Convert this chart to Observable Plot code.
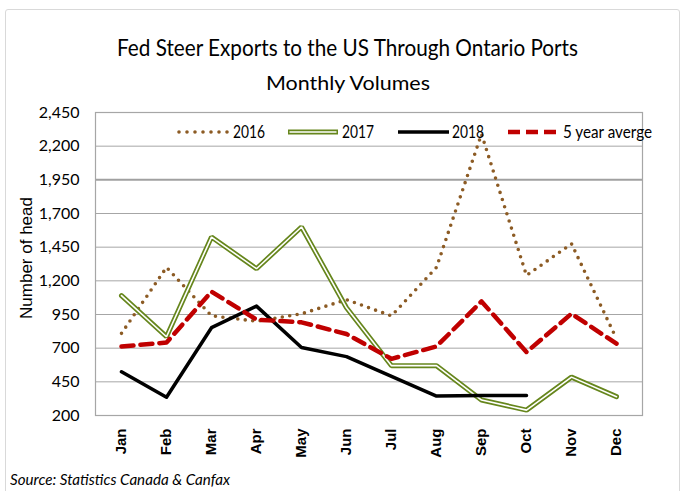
<!DOCTYPE html>
<html>
<head>
<meta charset="utf-8">
<script src="https://cdn.jsdelivr.net/npm/d3@7"></script>
<script src="https://cdn.jsdelivr.net/npm/@observablehq/plot@0.6"></script>
<style>
  html, body { margin: 0; padding: 0; background: #fff; }
  #wrap { position: relative; width: 683px; height: 491px; overflow: hidden; }
  #border { position: absolute; left: 5px; top: 9px; width: 675px; height: 500px; border: 1.5px solid #d9d9d9; border-radius: 3px; box-sizing: border-box; }
  .narrow { font-family: Lato, "Open Sans", sans-serif; white-space: nowrap; position: absolute; transform-origin: 0 50%; color: #000; }
  #title { font-size: 23px; top: 33px; }
  #subtitle { font-size: 20px; top: 70px; }
  #source { font-size: 15px; font-style: italic; top: 470px; }
  #chart { position: absolute; left: 0; top: 0; }
  #ytitle { position: absolute; left: 27px; top: 258px; transform: translate(-50%, -50%) rotate(-90deg); font-family: "Liberation Sans", Arial, sans-serif; font-size: 17px; white-space: nowrap; }
</style>
</head>
<body>
<div id="wrap">
  <div id="border"></div>
  <div id="chart"></div>
  <div id="title" class="narrow">Fed Steer Exports to the US Through Ontario Ports</div>
  <div id="subtitle" class="narrow">Monthly Volumes</div>
  <div id="ytitle">Number of head</div>
  <div id="source" class="narrow">Source: Statistics Canada &amp; Canfax</div>
</div>
<script>
const months = ["Jan","Feb","Mar","Apr","May","Jun","Jul","Aug","Sep","Oct","Nov","Dec"];
const yTicks = [200, 450, 700, 950, 1200, 1450, 1700, 1950, 2200, 2450];
const seriesNames = ["2016", "2017", "2018", "5 year averge"];
const v2016 = [810, 1300, 940, 900, 955, 1060, 940, 1300, 2290, 1240, 1475, 770];
const v2017 = [1090, 785, 1525, 1290, 1600, 1000, 570, 570, 315, 240, 485, 340];
const v2018 = [525, 336, 852, 1012, 705, 637, 490, 344, 348, 349];
const vAvg  = [712, 742, 1120, 912, 892, 805, 621, 713, 1047, 671, 956, 733];

const colors = { brown: "#8c5b24", green: "#66861c", black: "#000000", red: "#c00000" };

const rows = vals => vals.map((v, i) => ({ month: months[i], value: v }));
const d2016 = rows(v2016), d2017 = rows(v2017), d2018 = rows(v2018), dAvg = rows(vAvg);

const font = 'Lato, "Open Sans", sans-serif';

const chart = Plot.plot({
  width: 683,
  height: 491,
  marginLeft: 95,
  marginRight: 41,
  marginTop: 112,
  marginBottom: 76,
  style: { background: "transparent", overflow: "visible" },
  x: { type: "point", domain: months, padding: 0.5 },
  y: { domain: [200, 2450] },
  marks: [
    Plot.ruleY(yTicks.filter(t => t !== 1950), { stroke: "#a6a6a6", strokeWidth: 1, strokeOpacity: 1 }),
    Plot.ruleY([1950], { stroke: "#a0a0a0", strokeWidth: 2, strokeOpacity: 1 }),
    Plot.frame({ stroke: "#a6a6a6", strokeWidth: 1.2 }),
    Plot.axisY({ ticks: yTicks, tickFormat: d3.format(","), tickSize: 0, tickPadding: 16, fontSize: 16, fontFamily: font, label: null, fill: "#000" }),
    Plot.axisX({ tickRotate: -90, tickSize: 0, tickPadding: 13, fontSize: 15, fontWeight: "bold", fontFamily: '"Liberation Sans", Arial, sans-serif', label: null, fill: "#000" }),
    Plot.line(d2016, { x: "month", y: "value", stroke: colors.brown, strokeWidth: 3.6, strokeDasharray: "0 7.5", strokeLinecap: "round" }),
    Plot.line(d2017, { x: "month", y: "value", stroke: colors.green, strokeWidth: 5, strokeLinejoin: "miter" }),
    Plot.line(d2017, { x: "month", y: "value", stroke: "#ffffff", strokeWidth: 1.6, strokeLinejoin: "miter" }),
    Plot.line(d2018, { x: "month", y: "value", stroke: colors.black, strokeWidth: 3.5 }),
    Plot.line(dAvg, { x: "month", y: "value", stroke: colors.red, strokeWidth: 4.5, strokeDasharray: "12 7" })
  ]
});
document.getElementById("chart").appendChild(chart);

// fit HTML texts horizontally to target extents
function fit(id, left, right) {
  const el = document.getElementById(id);
  const w = el.getBoundingClientRect().width;
  const s = (right - left) / w;
  el.style.left = left + "px";
  el.style.transform = `scaleX(${s})`;
}
fit("title", 117, 578);
fit("subtitle", 266, 430);
fit("source", 10, 230);

// Legend (overlay)
const ns = "http://www.w3.org/2000/svg";
const leg = document.createElementNS(ns, "svg");
leg.setAttribute("width", 683);
leg.setAttribute("height", 491);
leg.style.position = "absolute"; leg.style.left = "0"; leg.style.top = "0";
const ly = 132;
const items = [
  { name: seriesNames[0], x0: 179, x1: 228, tx: 233, tw: 32, style: { stroke: colors.brown, "stroke-width": 3.6, "stroke-dasharray": "0 8", "stroke-linecap": "round" } },
  { name: seriesNames[1], x0: 288, x1: 338, tx: 342, tw: 32, double: true },
  { name: seriesNames[2], x0: 398, x1: 449, tx: 452, tw: 32, style: { stroke: colors.black, "stroke-width": 3.5 } },
  { name: seriesNames[3], x0: 508, x1: 559, tx: 563, tw: 89, style: { stroke: colors.red, "stroke-width": 4.5, "stroke-dasharray": "12 6" } }
];
function mkLine(x0, x1, y, attrs) {
  const l = document.createElementNS(ns, "line");
  l.setAttribute("x1", x0); l.setAttribute("x2", x1); l.setAttribute("y1", y); l.setAttribute("y2", y);
  for (const k in attrs) l.setAttribute(k, attrs[k]);
  leg.appendChild(l);
}
for (const it of items) {
  if (it.double) {
    mkLine(it.x0, it.x1, ly, { stroke: colors.green, "stroke-width": 5 });
    mkLine(it.x0 + 1.5, it.x1 - 1.5, ly, { stroke: "#fff", "stroke-width": 1.6 });
  } else {
    mkLine(it.x0, it.x1, ly, it.style);
  }
  const t = document.createElementNS(ns, "text");
  t.setAttribute("x", it.tx); t.setAttribute("y", ly);
  t.setAttribute("dy", "0.36em");
  t.setAttribute("font-size", 18);
  t.setAttribute("font-family", font);
  t.setAttribute("textLength", it.tw);
  t.setAttribute("lengthAdjust", "spacingAndGlyphs");
  t.textContent = it.name;
  leg.appendChild(t);
}
document.getElementById("wrap").appendChild(leg);
</script>
</body>
</html>
